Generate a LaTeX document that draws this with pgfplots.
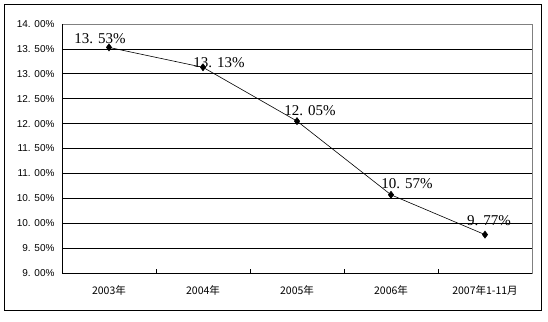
\documentclass[border=0pt]{standalone}
\usepackage{fontspec}
\setmainfont{Liberation Serif}
\newfontfamily\cjk{Noto Sans CJK SC}
\newfontfamily\sansf{Liberation Sans}
\usepackage{pgfplots}
\pgfplotsset{compat=1.18}
\usepackage{pgfplotstable}

\pgfplotstableread[col sep=comma]{
x,y,dx,dy,lab
0,13.53,-9,9,13. 53\%
1,13.13,16,5,13. 13\%
2,12.05,13,10,12. 05\%
3,10.57,16,11,10. 57\%
4,9.77,4,14,9. 77\%
}\data

\begin{document}
\begin{tikzpicture}
\path[use as bounding box] (0pt,0pt) rectangle (548pt,321pt);
\draw[line width=1pt] (4.5pt,11pt) rectangle (541pt,316pt);
\begin{axis}[
  at={(62pt,48pt)}, anchor=south west, scale only axis,
  width=470pt, height=249pt,
  xmin=-0.5, xmax=4.5, ymin=9, ymax=14,
  xtick={0,1,2,3,4},
  xticklabels={{\cjk 2003年},{\cjk 2004年},{\cjk 2005年},{\cjk 2006年},{\cjk 2007年1-11月}},
  minor xtick={0.5,1.5,2.5,3.5},
  ytick={9,9.5,10,10.5,11,11.5,12,12.5,13,13.5,14},
  yticklabels={9. 00\%,9. 50\%,10. 00\%,10. 50\%,11. 00\%,11. 50\%,12. 00\%,12. 50\%,13. 00\%,13. 50\%,14. 00\%},
  tick label style={font=\sansf\fontsize{10}{12}\selectfont},
  xticklabel style={font=\cjk\fontsize{10.5}{12}\selectfont, yshift=-9pt},
  yticklabel style={xshift=-4pt},
  major tick length=0pt, minor tick length=4pt,
  tick align=inside, tick pos=left,
  ytick style={draw=none},
  minor x tick style={black, line width=0.8pt},
  ymajorgrids, major grid style={black, line width=0.8pt},
  axis line style={gray, line width=0.8pt},
  clip=false,
]
\addplot[black, line width=0.6pt, mark=diamond*, mark size=3.5pt,
  mark options={fill=black},
  nodes near coords,
  point meta=explicit symbolic,
  visualization depends on={\thisrow{dx} \as \dx},
  visualization depends on={\thisrow{dy} \as \dy},
  every node near coord/.append style={anchor=center, xshift=\dx pt, yshift=\dy pt, font=\fontsize{15}{16}\selectfont, black},
] table[x=x, y=y, meta=lab] {\data};
\draw[black, line width=0.8pt] (rel axis cs:0,1) -- (rel axis cs:0,0) -- (rel axis cs:1,0);
\end{axis}
\end{tikzpicture}
\end{document}
